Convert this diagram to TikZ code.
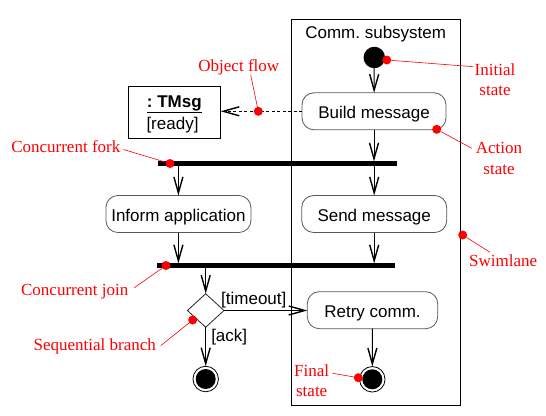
\documentclass[tikz,border=0pt]{standalone}
\usepackage{fontspec}
\setmainfont{Liberation Serif}
\setsansfont{Liberation Sans}
\usetikzlibrary{arrows.meta,shapes.geometric}
\begin{document}
\begin{tikzpicture}[x=1pt,y=-1pt,
  every node/.style={inner sep=0pt, outer sep=0pt},
  lbl/.style={font=\fontsize{17}{20.5}\selectfont\sffamily\frenchspacing},
  action/.style={lbl, draw=black!65, line width=0.8pt, rounded corners=12pt,
    minimum height=37pt, text height=16.8pt, text depth=2pt},
  bar/.style={fill=black, minimum height=4.5pt},
  flow/.style={line width=1pt, -{Straight Barb[length=16pt,width=9pt,line width=1.4pt]}},
  note/.style={text=red, font=\fontsize{17}{20.7}\selectfont\rmfamily, align=center},
  rdot/.style={circle, fill=red, minimum size=9pt},
  lead/.style={red, line width=0.6pt},
  final/.style={circle, draw, line width=0.8pt, minimum size=25.5pt,
    path picture={\fill[black] (path picture bounding box.center) circle (10pt);}}
]
\useasboundingbox (0,0) rectangle (546,415);
\fill[white] (0,0) rectangle (546,415);

% swimlane
\node[draw, line width=0.9pt, minimum width=169pt, minimum height=385.5pt] (lane) at (375.5,212.25) {};
\node[lbl, anchor=base] (title) at (375.7,38.3) {Comm. subsystem};

% states
\node[circle, fill=black, minimum size=21.5pt] (init) at (374.3,57.5) {};
\node[action, minimum width=144pt] (build) at (374,111.3) {Build message};
\node[draw, line width=0.9pt, minimum width=92.4pt, minimum height=52.3pt] (obj) at (174.5,112.2) {};
\node[lbl, anchor=base] (objname) at (174.3,107.3) {\textbf{\underline{: TMsg}}};
\node[lbl, anchor=base] (objstate) at (172.5,129.5) {[ready]};
\node[bar, minimum width=238.7pt] (fork) at (277.35,163.7) {};
\node[action, minimum width=145pt] (send) at (374.2,214) {Send message};
\node[action, minimum width=145pt] (inform) at (178.4,214) {Inform application};
\node[bar, minimum width=238.3pt] (join) at (275.85,265.7) {};
\node[diamond, draw=black!85, line width=0.8pt, minimum width=36.5pt, minimum height=33.5pt] (dec) at (205.7,310.5) {};
\node[action, minimum width=130.4pt] (retry) at (372.5,310.2) {Retry comm.};
\node[final] (fin1) at (372.3,379.3) {};
\node[final] (fin2) at (205.7,379) {};

% connectors
\draw[flow] (init) -- (build);
\draw[flow] (build) -- (build.south |- fork.north);
\draw[flow] (send.north |- fork.south) -- (send);
\draw[flow] (inform.north |- fork.south) -- (inform);
\draw[flow] (inform) -- (inform.south |- join.north);
\draw[flow] (send) -- (send.south |- join.north);
\draw[flow] (dec.north |- join.south) -- (dec);
\draw[flow] (dec.east) -- (dec.east -| retry.west);
\draw[flow] (dec) -- (fin2);
\draw[flow] (retry) -- (fin1);
\draw[flow, dash pattern=on 3pt off 2.5pt] (build.west) -- (build.west -| obj.east);

\node[lbl, anchor=base] (tlabel) at (253.8,304) {[timeout]};
\node[lbl, anchor=base] (alabel) at (229.2,341.7) {[ack]};

% annotations
\node[note, anchor=base] (n-of) at (238.8,71.7) {Object flow};
\node[rdot] (d-of) at (258.3,111.3) {};
\coordinate (e-of) at (250.7,75);
\draw[lead] (d-of) -- (e-of);

\node[note, anchor=base] (n-cf) at (65.8,152.7) {Concurrent fork};
\node[rdot] (d-cf) at (170,163.5) {};
\coordinate (e-cf) at (123.5,149.5);
\draw[lead] (d-cf) -- (e-cf);

\node[note, anchor=base] (n-cj) at (74.7,295) {Concurrent join};
\node[rdot] (d-cj) at (166,265.5) {};
\coordinate (e-cj) at (134.3,287.7);
\draw[lead] (d-cj) -- (e-cj);

\node[note, anchor=base] (n-sb) at (94.8,350) {Sequential branch};
\node[rdot] (d-sb) at (192.7,320) {};
\coordinate (e-sb) at (160.7,345.7);
\draw[lead] (d-sb) -- (e-sb);

\node[note] (n-fs) at (311.7,380.6) {Final\\state};
\node[rdot] (d-fs) at (358.3,377.7) {};
\coordinate (e-fs) at (332.7,373.3);
\draw[lead] (d-fs) -- (e-fs);

\node[note, anchor=base] (n-sl) at (503.2,266) {Swimlane};
\node[rdot] (d-sl) at (462.7,235) {};
\coordinate (e-sl) at (490,252.3);
\draw[lead] (d-sl) -- (e-sl);

\node[note] (n-is) at (495,79.6) {Initial\\state};
\node[rdot] (d-is) at (386.7,60) {};
\coordinate (e-is) at (473.3,66.7);
\draw[lead] (d-is) -- (e-is);

\node[note] (n-as) at (499,158.7) {Action\\state};
\node[rdot] (d-as) at (436.7,129.3) {};
\coordinate (e-as) at (471.7,148.3);
\draw[lead] (d-as) -- (e-as);
\end{tikzpicture}
\end{document}
